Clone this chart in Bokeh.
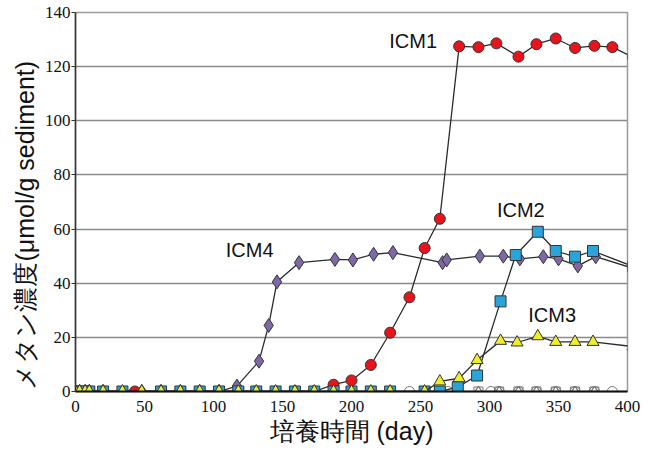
from bokeh.plotting import figure
from bokeh.models import FixedTicker, Range1d, Label, Title
from bokeh.embed import file_html
from bokeh.resources import INLINE

# ---- data ----
icm1_day = [0, 3, 7, 10, 20, 43, 62, 76, 90, 104, 118, 131, 145, 159, 173,
            187, 200, 214, 228, 242, 253, 264, 278, 292, 305, 321, 334, 348, 362, 376, 389, 404]
icm1_val = [0, 0, 0, 0, 0, 0, 0, 0, 0, 0, 0, 0, 0, 0, 0,
            2.5, 4.1, 9.8, 21.7, 34.8, 53.0, 63.8, 127.5, 127.2, 128.6, 123.7, 128.3, 130.4, 126.9, 127.7, 127.2, 123.5]

icm2_day = [0, 3, 7, 10, 20, 34, 62, 76, 90, 104, 118, 131, 145, 159, 173, 187, 200, 214, 228, 253, 264,
            277, 291, 308, 319, 335, 348, 362, 375, 404]
icm2_val = [0, 0, 0, 0, 0, 0, 0, 0, 0, 0, 0, 0, 0, 0, 0, 0, 0, 0, 0, 0, 0,
            1.6, 5.9, 33.3, 50.4, 59.0, 51.9, 49.8, 51.9, 46.2]

icm3_day = [0, 3, 7, 10, 20, 34, 48, 62, 76, 90, 104, 118, 131, 145, 159, 173, 187, 200, 214, 228, 253,
            264, 278, 291, 308, 320, 335, 348, 362, 375, 404]
icm3_val = [0, 0, 0, 0, 0, 0, 0, 0, 0, 0, 0, 0, 0, 0, 0, 0, 0, 0, 0, 0, 0,
            3.7, 4.9, 11.6, 18.7, 18.1, 20.4, 18.3, 18.3, 18.3, 16.6]

icm4_day = [0, 3, 7, 10, 20, 48, 62, 76, 90, 104, 117, 133, 140, 146, 162, 188, 201, 216, 230,
            266, 269, 293, 310, 322, 339, 350, 364, 377, 404]
icm4_val = [0, 0, 0, 0, 0, 0, 0, 0, 0, 0, 2.0, 11.2, 24.4, 40.5, 47.6, 48.8, 48.6, 50.7, 51.3,
            47.6, 48.6, 50.0, 50.0, 49.0, 49.8, 49.0, 46.4, 49.8, 45.5]

ctrl_circle_day = [242, 270, 301, 307, 321, 334, 348, 362, 376, 389]
ctrl_other_day = [292, 307, 321, 334, 348, 362, 376]
ctrl_val_c = [0] * len(ctrl_circle_day)
ctrl_val_o = [0] * len(ctrl_other_day)

labels = ["ICM1", "ICM2", "ICM3", "ICM4"]
label_x = [244.7, 322.7, 345.4, 126.2]
label_y = [129.3, 67.0, 28.2, 52.4]

x_ticks = [0, 50, 100, 150, 200, 250, 300, 350, 400]
y_ticks = [0, 20, 40, 60, 80, 100, 120, 140]

x_title = "培養時間 (day)"
y_title = "メタン濃度(μmol/g sediment)"

# ---- layout ----
W, H = 641, 449
BL, BR, BT, BB = 75, 14, 12, 58

p = figure(width=W, height=H, output_backend="svg", toolbar_location=None,
           x_range=Range1d(0, 400), y_range=Range1d(0, 140),
           min_border_left=BL, min_border_right=BR, min_border_top=BT, min_border_bottom=BB)
p.background_fill_color = "white"
p.border_fill_color = "white"
p.outline_line_color = "#9a9a9a"
p.outline_line_width = 1.5

p.xgrid.grid_line_color = None
p.ygrid.grid_line_color = "#8a8a8a"
p.ygrid.grid_line_width = 1.5

p.xaxis.ticker = FixedTicker(ticks=x_ticks)
p.yaxis.ticker = FixedTicker(ticks=y_ticks)
p.xaxis.major_label_text_font = "Times New Roman"
p.yaxis.major_label_text_font = "Times New Roman"
p.xaxis.major_label_text_font_size = "17px"
p.yaxis.major_label_text_font_size = "17px"
p.axis.major_label_text_color = "#111111"
p.axis.minor_tick_line_color = None

p.xaxis.axis_line_color = "#111111"
p.xaxis.axis_line_width = 2
p.xaxis.major_tick_line_color = None
p.xaxis.major_label_standoff = 3

p.yaxis.axis_line_color = "#333333"
p.yaxis.axis_line_width = 1.5
p.yaxis.major_tick_out = 4
p.yaxis.major_tick_in = 0
p.yaxis.major_tick_line_color = "#333333"
p.yaxis.major_label_standoff = 1

# axis titles as side titles (allow placement along the axis)
p.add_layout(Title(text=x_title, align="center", offset=-3, standoff=1,
                   text_font="Liberation Sans", text_font_size="25px", text_font_style="normal",
                   text_color="#111111"), "below")
p.add_layout(Title(text=y_title, align="left", offset=2, standoff=6,
                   text_font="Liberation Sans", text_font_size="25px", text_font_style="normal",
                   text_color="#111111"), "left")

LC = "#2b2b2b"
# controls (open markers)
p.scatter(ctrl_circle_day, ctrl_val_c, marker="circle", size=10, fill_color=None, line_color="#777777", line_width=1)
p.scatter(ctrl_other_day, ctrl_val_o, marker="square", size=9, fill_color=None, line_color="#777777", line_width=1)
p.scatter(ctrl_other_day, ctrl_val_o, marker="triangle", size=9, fill_color=None, line_color="#777777", line_width=1)
p.scatter(ctrl_other_day, ctrl_val_o, marker="diamond", size=11, fill_color=None, line_color="#777777", line_width=1)

# ICM4
p.line(icm4_day, icm4_val, line_color=LC, line_width=1.3)
p.scatter(icm4_day, icm4_val, marker="diamond", size=14, fill_color="#7f68a8", line_color="#333333", line_width=1)
# ICM1
p.line(icm1_day, icm1_val, line_color=LC, line_width=1.3)
p.scatter(icm1_day, icm1_val, marker="circle", size=11, fill_color="#e8141c", line_color="#333333", line_width=1)
# ICM2
p.line(icm2_day, icm2_val, line_color=LC, line_width=1.3)
p.scatter(icm2_day, icm2_val, marker="square", size=11, fill_color="#2aa5dc", line_color="#333333", line_width=1)
# ICM3
p.line(icm3_day, icm3_val, line_color=LC, line_width=1.3)
p.scatter(icm3_day, icm3_val, marker="triangle", size=12, fill_color="#eeee2a", line_color="#333333", line_width=1)

for t, lx, ly in zip(labels, label_x, label_y):
    p.add_layout(Label(x=lx, y=ly, text=t, text_align="center", text_baseline="middle",
                       text_font="Liberation Sans", text_font_size="20px", text_color="#111111"))

open("out.html", "w").write(file_html(p, INLINE))
